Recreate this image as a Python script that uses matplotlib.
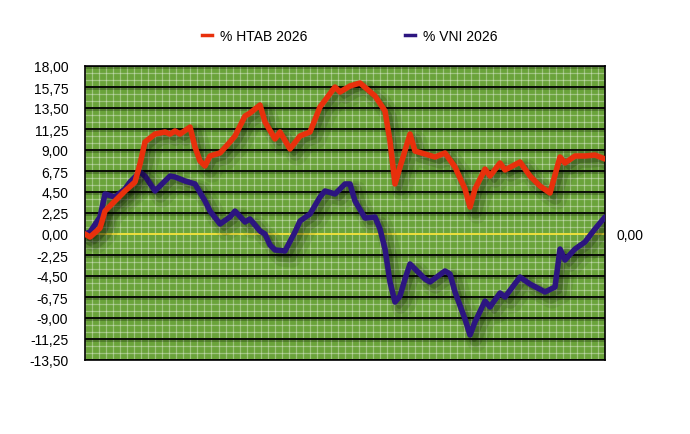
import matplotlib
matplotlib.use("Agg")
import matplotlib.pyplot as plt
import matplotlib.patheffects as pe
from matplotlib.ticker import MultipleLocator, FixedLocator
from matplotlib.lines import Line2D

plt.rcParams['font.family'] = ['Liberation Sans', 'DejaVu Sans']

# ---- data ----
htab_days = [0, 1, 3, 4, 6, 8, 10, 11, 12, 14, 16, 17, 18, 19, 21, 22, 23, 24, 25, 27,
             29, 30, 32, 33, 35, 36, 38, 39, 41, 43, 45, 47, 50, 51, 53, 55, 58, 60, 61, 62,
             63, 65, 66, 70, 72, 74, 76, 77, 78, 80, 81, 83, 84, 87, 89, 91, 93, 95, 96, 98,
             100, 102, 104]
htab_vals = [0.00, -0.32, 0.64, 2.46, 3.54, 4.61, 5.57, 7.50, 9.86, 10.71, 10.93, 10.71, 11.04,
             10.71, 11.46, 9.32, 7.82, 7.29, 8.36, 8.68, 9.86, 10.50, 12.64, 12.96, 13.82, 12.00,
             10.18, 10.93, 9.11, 10.50, 10.93, 13.61, 15.75, 15.21, 15.86, 16.18, 14.79, 13.18,
             9.96, 5.36, 7.18, 10.71, 8.89, 8.25, 8.68, 7.18, 4.82, 2.89, 4.82, 6.96, 6.21, 7.61,
             6.86, 7.71, 6.21, 5.14, 4.39, 8.25, 7.61, 8.36, 8.36, 8.46, 8.04]

vni_days = [0, 1, 3, 4, 6, 8, 9, 11, 12, 14, 15, 17, 18, 20, 22, 24, 25, 27, 29, 30,
            32, 33, 35, 36, 37, 38, 40, 42, 43, 45, 47, 48, 50, 52, 53, 54, 56, 58, 59, 60,
            61, 62, 63, 64, 65, 66, 68, 69, 72, 73, 74, 76, 77, 78, 80, 81, 83, 84, 87, 89,
            92, 94, 95, 96, 98, 100, 102, 104]
vni_vals = [0.00, 0.21, 1.82, 4.29, 3.96, 4.82, 5.57, 6.64, 6.21, 4.61, 5.14, 6.21, 6.11, 5.68,
            5.36, 3.54, 2.46, 1.07, 1.82, 2.46, 1.29, 1.61, 0.32, 0.00, -1.18, -1.71, -1.82, 0.21,
            1.39, 2.14, 3.96, 4.61, 4.29, 5.36, 5.36, 3.54, 1.71, 1.82, 0.54, -1.61, -5.14, -7.29,
            -6.64, -4.82, -3.21, -3.75, -4.82, -5.14, -3.96, -4.29, -6.21, -9.11, -10.82, -9.43,
            -7.18, -7.82, -6.32, -6.75, -4.61, -5.36, -6.21, -5.68, -1.61, -2.79, -1.61, -0.86,
            0.54, 1.82]

series_names = ['% HTAB 2026', '% VNI 2026']
y_ticks = [18.00, 15.75, 13.50, 11.25, 9.00, 6.75, 4.50, 2.25, 0.00, -2.25, -4.50,
           -6.75, -9.00, -11.25, -13.50]

RED = '#e8300c'
NAVY = '#2c1580'
GREEN = '#6aa33a'

fig = plt.figure(figsize=(6.9, 4.35), dpi=100)
ax = fig.add_axes([85 / 690, 1 - 361 / 435, 520 / 690, 294 / 435])
ax.set_facecolor(GREEN)

ax.set_xlim(0, 104)
ax.set_ylim(-13.5, 18)

# minor white grid
ax.xaxis.set_minor_locator(MultipleLocator(104 / 74))
ax.yaxis.set_minor_locator(MultipleLocator(0.75))
ax.grid(which='minor', color='white', alpha=0.35, linewidth=0.9)
ax.set_yticks(y_ticks)
ax.set_yticklabels([f"{v:.2f}".replace('.', ',') for v in y_ticks])
ax.set_xticks([])
ax.set_axisbelow(True)

# major black horizontal lines (zero line is yellow)
for v in y_ticks:
    if v != 0:
        ax.axhline(v, color='black', linewidth=1.3, zorder=1,
                   path_effects=[pe.SimpleLineShadow(offset=(0, -1.2), shadow_color='black',
                                                     alpha=0.25), pe.Normal()])
ax.axhline(0, color='#f7e43a', linewidth=1.3, zorder=2)

ax.tick_params(axis='y', which='both', length=0, labelsize=10, pad=12)
ax.tick_params(axis='x', which='both', length=0)
for s in ax.spines.values():
    s.set_color('black')
    s.set_linewidth(1.2)

shadow = [pe.SimpleLineShadow(offset=(5, -5), shadow_color='black', alpha=0.08, linewidth=14),
          pe.SimpleLineShadow(offset=(4, -4), shadow_color='black', alpha=0.12, linewidth=9),
          pe.SimpleLineShadow(offset=(3, -3), shadow_color='black', alpha=0.18),
          pe.Normal()]

ax.plot(htab_days, htab_vals, color=RED, linewidth=4, solid_joinstyle='round',
        solid_capstyle='round', label=series_names[0], zorder=4, path_effects=shadow)
ax.plot(vni_days, vni_vals, color=NAVY, linewidth=4, solid_joinstyle='round',
        solid_capstyle='round', label=series_names[1], zorder=3, path_effects=shadow)

# right-side single label
ax2 = ax.twinx()
ax2.set_ylim(-13.5, 18)
ax2.yaxis.set_major_locator(FixedLocator([0]))
ax2.set_yticklabels(['0,00'])
ax2.tick_params(axis='y', length=0, labelsize=10, pad=8)
for s in ax2.spines.values():
    s.set_visible(False)

# legend
handles = [Line2D([], [], color=RED, linewidth=2.5), Line2D([], [], color=NAVY, linewidth=2.5)]
fig.legend(handles, series_names, loc='center', bbox_to_anchor=(0.507, 1 - 37 / 435),
           ncol=2, frameon=False, fontsize=10, handlelength=0.7, handletextpad=0.6,
           columnspacing=7)

fig.savefig('out.png', dpi=100)
